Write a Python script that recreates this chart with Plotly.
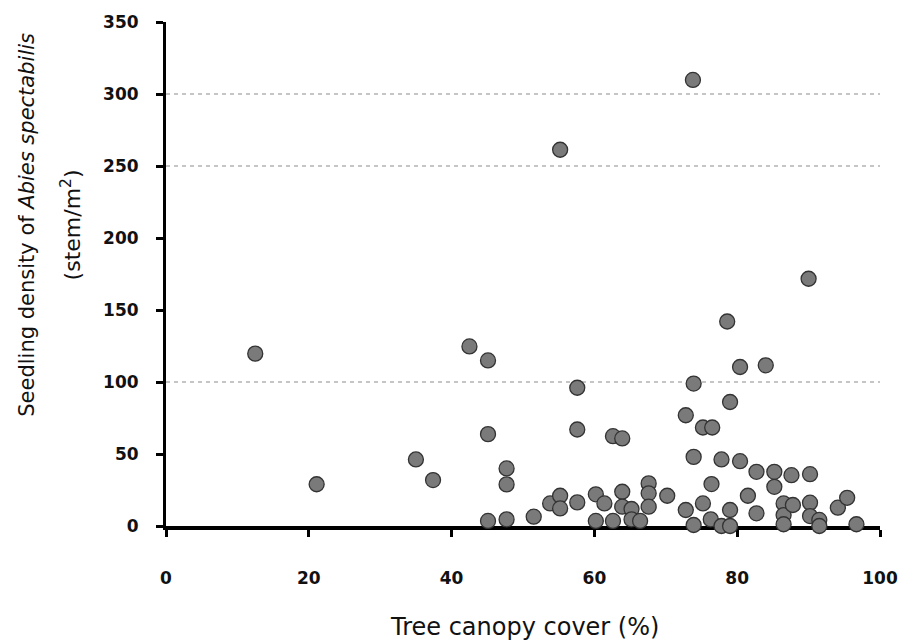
import plotly.graph_objects as go

# Tree canopy cover (%) and seedling density (stem/m2)
canopy = [12.5, 21.1, 35.0, 37.4, 42.5, 45.1, 45.1, 45.1, 47.7, 47.7,
          47.7, 51.5, 53.8, 55.2, 55.2, 55.2, 57.6, 57.6, 57.6, 60.2,
          60.2, 61.4, 62.6, 62.6, 63.9, 63.9, 63.9, 65.2, 65.2, 66.4,
          67.6, 67.6, 67.6, 70.2, 72.8, 72.8, 73.8, 73.9, 73.9, 73.9,
          75.2, 75.2, 76.5, 76.4, 76.3, 77.8, 77.8, 78.6, 79.0, 79.0,
          79.0, 80.4, 80.4, 81.5, 82.7, 82.7, 84.0, 85.2, 85.2, 86.5,
          86.5, 86.5, 87.8, 87.6, 90.0, 90.2, 90.2, 90.2, 91.5, 91.5,
          94.1, 95.4, 96.7]
density = [119.7, 29.0, 46.2, 31.9, 124.7, 115.0, 63.8, 3.5, 40.0, 28.9,
           4.6, 6.5, 15.7, 21.0, 12.2, 261.3, 96.0, 67.0, 16.4, 22.0,
           3.5, 15.7, 62.4, 3.5, 60.8, 23.8, 13.4, 11.8, 4.6, 3.5,
           29.6, 22.7, 13.4, 21.0, 76.9, 11.1, 309.8, 98.9, 48.0, 0.7,
           68.4, 15.7, 68.4, 29.1, 4.6, 46.2, 0.0, 142.0, 86.1, 11.1,
           0.0, 110.4, 45.0, 21.0, 37.6, 8.8, 111.6, 37.6, 27.2, 15.7,
           7.6, 1.2, 14.6, 35.3, 171.7, 36.0, 16.2, 6.9, 4.2, 0.0,
           12.7, 19.6, 1.2]

x_ticks = [0, 20, 40, 60, 80, 100]
y_ticks = [0, 50, 100, 150, 200, 250, 300, 350]
grid_lines = [100, 250, 300]

FONT = "DejaVu Sans"

fig = go.Figure()
fig.add_trace(go.Scatter(
    x=canopy, y=density, mode="markers",
    marker=dict(size=15, color="#7a7a7a", line=dict(color="#333333", width=1.3)),
    cliponaxis=False, showlegend=False,
))

for g in grid_lines:
    fig.add_shape(type="line", xref="x", yref="y", x0=0, x1=100, y0=g, y1=g,
                  line=dict(color="#8c8c8c", width=1, dash="4px,4px"), layer="below")

fig.update_layout(
    width=910, height=643,
    margin=dict(l=166, r=24, t=21, b=117),
    paper_bgcolor="white", plot_bgcolor="white",
    font=dict(family=FONT, color="#111"),
    xaxis=dict(range=[0, 100], tickvals=x_ticks, showgrid=False, zeroline=False,
               showline=True, linecolor="black", linewidth=4,
               ticks="outside", ticklen=7, tickwidth=3, tickcolor="black",
               tickfont=dict(family=FONT, size=17, color="#111", weight="bold"),
               ticklabelstandoff=27, layer="below traces"),
    yaxis=dict(range=[0, 350], tickvals=y_ticks, showgrid=False, zeroline=False,
               showline=True, linecolor="black", linewidth=3,
               ticks="outside", ticklen=7, tickwidth=3, tickcolor="black",
               tickfont=dict(family=FONT, size=17, color="#111", weight="bold"),
               ticklabelstandoff=14, layer="below traces"),
    annotations=[
        dict(text="Seedling density of <i>Abies spectabilis</i>", xref="paper", yref="paper",
             x=(25 - 166) / 720, y=(526 - 224) / 505, textangle=-90, showarrow=False,
             xanchor="center", yanchor="middle", font=dict(family=FONT, size=21, color="#111")),
        dict(text="(stem/m<sup>2</sup>)", xref="paper", yref="paper",
             x=(70 - 166) / 720, y=(526 - 224) / 505, textangle=-90, showarrow=False,
             xanchor="center", yanchor="middle", font=dict(family=FONT, size=22, color="#111")),
        dict(text="Tree canopy cover (%)", xref="paper", yref="paper",
             x=(528 - 166) / 720, y=(526 - 627) / 505, showarrow=False,
             xanchor="center", yanchor="middle", font=dict(family=FONT, size=24, color="#111")),
    ],
)

fig.write_html("out.html")
